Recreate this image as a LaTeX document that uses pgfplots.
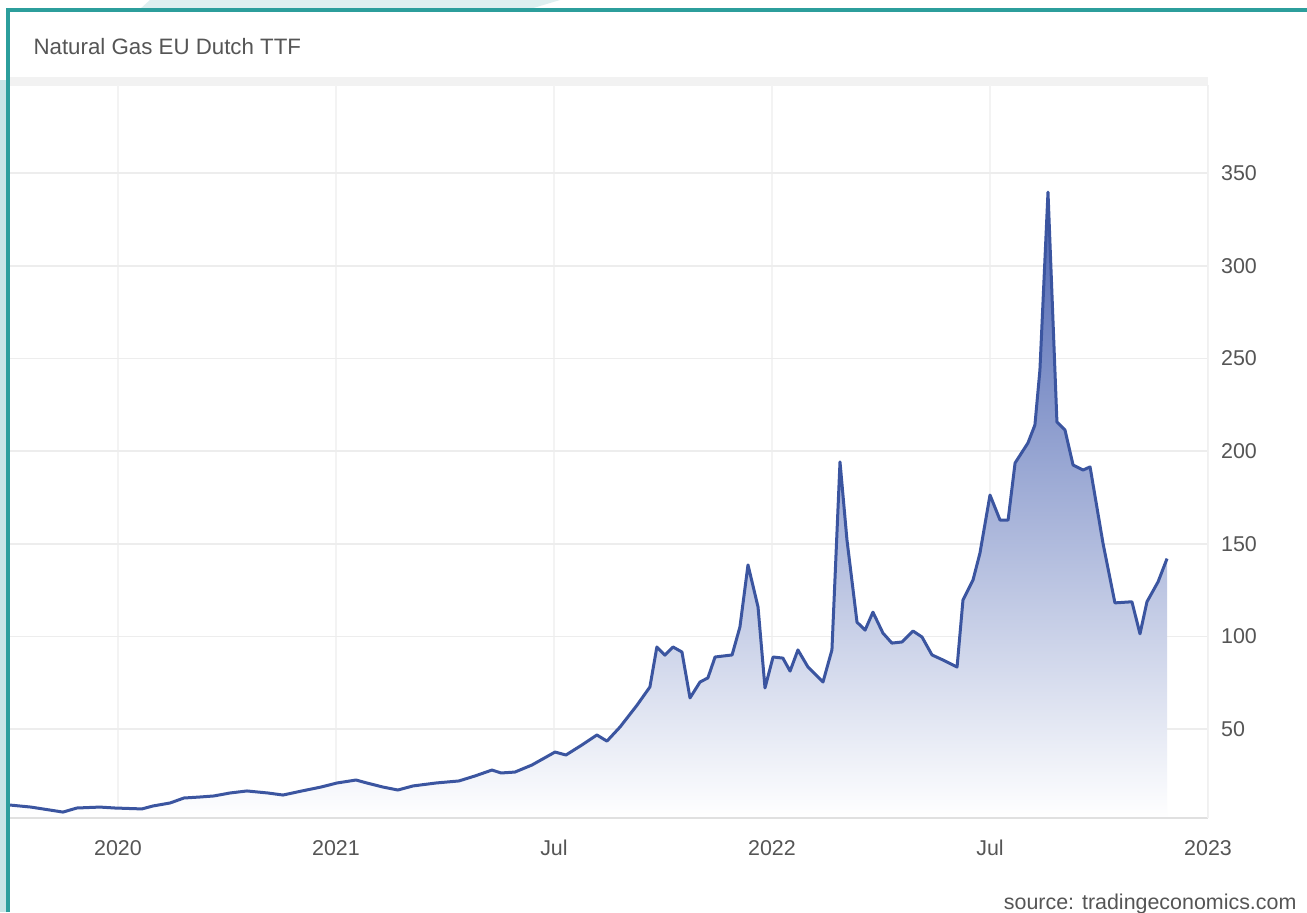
\documentclass[border=0pt]{standalone}
\usepackage{fontspec}
\setmainfont{Liberation Sans}
\usepackage{pgfplots}
\pgfplotsset{compat=1.18}
\usepackage{pgfplotstable}

\definecolor{framecol}{HTML}{2C9E9C}
\definecolor{stripcol}{HTML}{C8E5E6}
\definecolor{gridcol}{HTML}{EDEDED}
\definecolor{vgridcol}{HTML}{F3F3F3}
\definecolor{labelcol}{HTML}{555555}
\definecolor{linecol}{HTML}{3B55A0}
\definecolor{fillcol}{HTML}{4A63B1}

% t: 0 = 2020, 1 = 2021, 2 = Jul, 3 = 2022, 4 = Jul, 5 = 2023 (tick positions)
\pgfplotstableread{
t      v
-0.495 9.0
-0.399 7.9
-0.252 5.2
-0.188 7.4
-0.083 7.9
-0.014 7.4
0.110  6.9
0.161  8.5
0.239  10.1
0.303  12.8
0.372  13.3
0.440  13.9
0.514  15.5
0.592  16.6
0.688  15.5
0.757  14.4
0.844  16.6
0.931  18.7
1.005  20.9
1.092  22.5
1.142  20.9
1.216  18.7
1.284  17.1
1.353  19.3
1.459  20.9
1.564  22.0
1.638  24.7
1.716  27.9
1.757  26.3
1.821  26.8
1.899  30.6
2.005  37.6
2.055  36.0
2.128  41.4
2.197  46.8
2.243  43.5
2.303  51.1
2.381  62.9
2.440  72.7
2.472  94.3
2.509  89.9
2.546  94.3
2.587  91.6
2.624  66.8
2.670  75.4
2.706  77.6
2.739  88.9
2.817  90.0
2.853  105.1
2.890  138.6
2.936  115.9
2.968  72.2
3.005  88.9
3.050  88.3
3.083  81.3
3.119  92.7
3.165  83.5
3.234  75.4
3.275  92.7
3.312  194.2
3.344  152.0
3.390  107.7
3.427  103.4
3.463  113.1
3.509  101.8
3.550  96.4
3.596  97.0
3.647  102.9
3.688  99.7
3.734  90.0
3.784  87.3
3.849  83.5
3.876  119.6
3.922  130.4
3.954  145.0
4.000  176.3
4.046  162.8
4.083  162.8
4.115  193.6
4.174  204.4
4.206  214.1
4.229  243.8
4.266  339.8
4.307  215.7
4.344  211.4
4.381  192.5
4.427  189.8
4.459  191.5
4.518  150.5
4.573  118.1
4.651  118.7
4.688  101.4
4.720  118.7
4.771  129.5
4.812  142.0
}\ttfdata

\begin{document}
\begin{tikzpicture}
\path[use as bounding box] (-3.5pt,286.3pt) rectangle (453.95pt,-32.9pt);

% background, in pixel units of the reference
\begin{scope}[shift={(-3.5pt,286.3pt)}, x=0.35pt, y=-0.35pt]
  \fill[white] (0,0) rectangle (1307,912);
  \fill[stripcol] (0,80) rectangle (7,912);
  \fill[stripcol!60] (150,0) -- (560,0) -- (530,9) -- (140,9) -- cycle;
  \fill[black!5] (10,77) rectangle (1208,86);
  \draw[framecol, line width=1.2pt] (8,912) -- (8,10) -- (1310,10);
\end{scope}

\begin{axis}[
  at={(0,0)}, anchor=south west,
  scale only axis,
  width=419.3pt, height=256.55pt,
  xmin=-0.495, xmax=5,
  ymin=2, ymax=397.6,
  axis line style={draw=none},
  tick style={draw=none},
  major tick length=0pt,
  grid=major,
  y grid style={gridcol, line width=0.6pt},
  x grid style={vgridcol, line width=0.6pt},
  xtick={0,1,2,3,4,5},
  xticklabels={2020,2021,Jul,2022,Jul,2023},
  ytick={50,100,150,200,250,300,350},
  yticklabel pos=right,
  /pgf/number format/assume math mode=true,
  ticklabel style={font=\fontsize{7.5}{9}\selectfont, text=labelcol, inner sep=0pt},
  xticklabel style={anchor=center, yshift=-10.5pt},
  yticklabel style={anchor=west, xshift=4.4pt},
]
  \addplot[draw=none, shade, top color=fillcol, bottom color=white]
    table[x=t, y=v] {\ttfdata} \closedcycle;
  \addplot[linecol, line width=1.05pt, line join=round, mark=none]
    table[x=t, y=v] {\ttfdata};
  \draw[black!12, line width=0.6pt] (axis cs:-0.495,2) -- (axis cs:5,2);
  \draw[black!6, line width=0.5pt] (axis cs:5,2) -- (axis cs:5,397.6);
\end{axis}

\begin{scope}[shift={(-3.5pt,286.3pt)}, x=0.35pt, y=-0.35pt]
  \node[anchor=west, inner sep=0pt, text=labelcol, font=\fontsize{7.8}{9}\selectfont]
    at (33,47) {Natural Gas EU Dutch TTF};
  \node[anchor=east, inner sep=0pt, text=labelcol, font=\fontsize{7.5}{9}\selectfont]
    at (1297,904) {source: tradingeconomics.com};
\end{scope}
\end{tikzpicture}
\end{document}
